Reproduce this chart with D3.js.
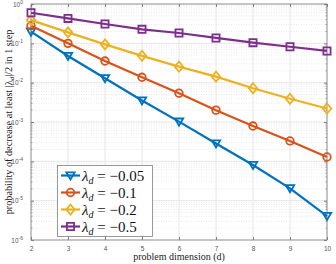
<!DOCTYPE html>
<html>
<head>
<meta charset="utf-8">
<script src="https://cdn.jsdelivr.net/npm/d3@7"></script>
<style>
  body { margin: 0; background: #fff; }
  svg { display: block; }
</style>
</head>
<body>
<svg id="chart" width="336" height="264"></svg>
<script>
// Data
const dims = [2, 3, 4, 5, 6, 7, 8, 9, 10];
const lambdas = ['-0.05', '-0.1', '-0.2', '-0.5'];
const p005 = [0.198, 0.0476, 0.0129, 0.00352, 0.00102, 2.84e-4, 8.05e-5, 2.06e-5, 4.07e-6];
const p01  = [0.28, 0.1, 0.0355, 0.0137, 0.0054, 0.0020, 7.9e-4, 3.3e-4, 1.29e-4];
const p02  = [0.39, 0.19, 0.094, 0.048, 0.0255, 0.0142, 0.0072, 0.0039, 0.0022];
const p05  = [0.60, 0.43, 0.31, 0.227, 0.183, 0.137, 0.104, 0.082, 0.064];
const yTickExps = [0, -1, -2, -3, -4, -5, -6];

const series = [
  { name: lambdas[0], values: p005, color: '#0072BD', marker: 'tri' },
  { name: lambdas[1], values: p01,  color: '#D95319', marker: 'circle' },
  { name: lambdas[2], values: p02,  color: '#EDB120', marker: 'diamond' },
  { name: lambdas[3], values: p05,  color: '#7E2F8E', marker: 'square' }
];

const svg = d3.select('#chart');
const width = 336, height = 264;
const m = { left: 31, right: 9, top: 4, bottom: 24 };
const pw = width - m.left - m.right;
const ph = height - m.top - m.bottom;

const x = d3.scaleLinear().domain([2, 10]).range([m.left, m.left + pw]);
const y = d3.scaleLog().domain([1e-6, 1]).range([m.top + ph, m.top]);

const axisColor = '#808080';
const gridColor = '#e6e6e6';

// Minor grid (dotted)
const minor = [];
for (let e = -6; e < 0; e++) for (let k = 2; k <= 9; k++) minor.push(k * Math.pow(10, e));
svg.append('g').selectAll('line')
  .data(minor)
  .join('line')
  .attr('x1', m.left).attr('x2', m.left + pw)
  .attr('y1', d => y(d)).attr('y2', d => y(d))
  .style('stroke', '#dcdcdc')
  .style('stroke-width', 0.6)
  .style('stroke-dasharray', '1,1.5');

// Major grid
svg.append('g').selectAll('line')
  .data(yTickExps)
  .join('line')
  .attr('x1', m.left).attr('x2', m.left + pw)
  .attr('y1', d => y(Math.pow(10, d))).attr('y2', d => y(Math.pow(10, d)))
  .style('stroke', gridColor);

svg.append('g').selectAll('line')
  .data(dims)
  .join('line')
  .attr('x1', d => x(d)).attr('x2', d => x(d))
  .attr('y1', m.top).attr('y2', m.top + ph)
  .style('stroke', gridColor);

// Box
svg.append('rect')
  .attr('x', m.left).attr('y', m.top)
  .attr('width', pw).attr('height', ph)
  .style('fill', 'none')
  .style('stroke', axisColor)
  .style('stroke-width', 0.8);

// Axes (ticks inward)
const xAxis = d3.axisBottom(x).tickValues(dims).tickSize(-3).tickPadding(6).tickFormat(d3.format('d'));
const gx = svg.append('g').attr('transform', `translate(0,${m.top + ph})`).call(xAxis);
gx.select('.domain').remove();
gx.selectAll('line').style('stroke', axisColor);
gx.selectAll('text').style('fill', '#555').style('font', '6.5px Helvetica, Arial, sans-serif');

const gxTop = svg.append('g').attr('transform', `translate(0,${m.top})`)
  .call(d3.axisTop(x).tickValues(dims).tickSize(-3).tickFormat(''));
gxTop.select('.domain').remove();
gxTop.selectAll('line').style('stroke', axisColor);

const yAxisL = d3.axisLeft(y).tickValues(yTickExps.map(e => Math.pow(10, e))).tickSize(-3).tickFormat('');
const gy = svg.append('g').attr('transform', `translate(${m.left},0)`).call(yAxisL);
gy.select('.domain').remove();
gy.selectAll('line').style('stroke', axisColor);

const gyR = svg.append('g').attr('transform', `translate(${m.left + pw},0)`)
  .call(d3.axisRight(y).tickValues(yTickExps.map(e => Math.pow(10, e))).tickSize(-3).tickFormat(''));
gyR.select('.domain').remove();
gyR.selectAll('line').style('stroke', axisColor);

// Minor ticks on left/right
[[m.left, 1.6], [m.left + pw, -1.6]].forEach(([x0, len]) => {
  svg.append('g').selectAll('line')
    .data(minor)
    .join('line')
    .attr('x1', x0).attr('x2', x0 + len)
    .attr('y1', d => y(d)).attr('y2', d => y(d))
    .style('stroke', axisColor)
    .style('stroke-width', 0.6);
});

// Y tick labels 10^e
const yl = svg.append('g').selectAll('text')
  .data(yTickExps)
  .join('text')
  .attr('x', m.left - 8)
  .attr('y', d => y(Math.pow(10, d)) + 2.5)
  .style('text-anchor', 'end')
  .style('fill', '#555')
  .style('font', '6.5px Helvetica, Arial, sans-serif');
yl.append('tspan').text('10');
yl.append('tspan').attr('dy', -3).style('font-size', '5px').text(d => d === 0 ? '0' : '-' + Math.abs(d));

// Axis labels
svg.append('text')
  .attr('x', m.left + pw / 2).attr('y', height - 4)
  .style('text-anchor', 'middle')
  .style('font', '10px "Liberation Serif", "DejaVu Serif", serif')
  .style('fill', '#222')
  .text('problem dimension (d)');

const ylab = svg.append('text')
  .attr('transform', `translate(12,${m.top + ph / 2}) rotate(-90)`)
  .style('text-anchor', 'middle')
  .style('font', '10.2px "Liberation Serif", "DejaVu Serif", serif')
  .style('fill', '#222');
ylab.append('tspan').text('probability of decrease at least |λ');
ylab.append('tspan').attr('dy', 2).style('font-size', '7px').style('font-style', 'italic').text('d');
ylab.append('tspan').attr('dy', -2).text('|/2 in 1 step');

// Markers
function markerPath(type, s) {
  if (type === 'tri') return `M${-s},${-s * 0.75}L${s},${-s * 0.75}L0,${s * 0.95}Z`;
  if (type === 'diamond') return `M0,${-s * 1.2}L${s},0L0,${s * 1.2}L${-s},0Z`;
  if (type === 'square') return `M${-s * 0.85},${-s * 0.85}h${s * 1.7}v${s * 1.7}h${-s * 1.7}Z`;
  return null;
}
function drawMarker(g, type, color, cx, cy, s) {
  if (type === 'circle') {
    g.append('circle').attr('cx', cx).attr('cy', cy).attr('r', s * 0.9)
      .style('fill', 'none').style('stroke', color).style('stroke-width', 1.8);
  } else {
    g.append('path').attr('d', markerPath(type, s))
      .attr('transform', `translate(${cx},${cy})`)
      .style('fill', 'none').style('stroke', color).style('stroke-width', 1.8)
      .style('stroke-linejoin', 'miter');
  }
}

const line = d3.line().x((d, i) => x(dims[i])).y(d => y(d));
const plot = svg.append('g');
series.forEach(s => {
  plot.append('path')
    .attr('d', line(s.values))
    .style('fill', 'none')
    .style('stroke', s.color)
    .style('stroke-width', 2.2);
  const g = plot.append('g');
  s.values.forEach((v, i) => drawMarker(g, s.marker, s.color, x(dims[i]), y(v), 4.2));
});

// Legend
const lg = svg.append('g');
lg.append('rect')
  .attr('x', 57.5).attr('y', 165.5)
  .attr('width', 95).attr('height', 71)
  .style('fill', '#fff')
  .style('stroke', axisColor)
  .style('stroke-width', 0.8);
series.forEach((s, i) => {
  const ly = 175.5 + i * 17;
  lg.append('line')
    .attr('x1', 61).attr('x2', 80)
    .attr('y1', ly).attr('y2', ly)
    .style('stroke', s.color).style('stroke-width', 2.2);
  drawMarker(lg, s.marker, s.color, 70.5, ly, 4.2);
  const t = lg.append('text')
    .attr('x', 82).attr('y', ly + 5)
    .style('font', '15px "Liberation Serif", "DejaVu Serif", serif')
    .style('fill', '#111');
  t.append('tspan').style('font-style', 'italic').text('λ');
  t.append('tspan').attr('dy', 3).style('font-size', '10px').style('font-style', 'italic').text('d');
  t.append('tspan').attr('dy', -3).text(' = −' + s.name.slice(1));
});
</script>
</body>
</html>
